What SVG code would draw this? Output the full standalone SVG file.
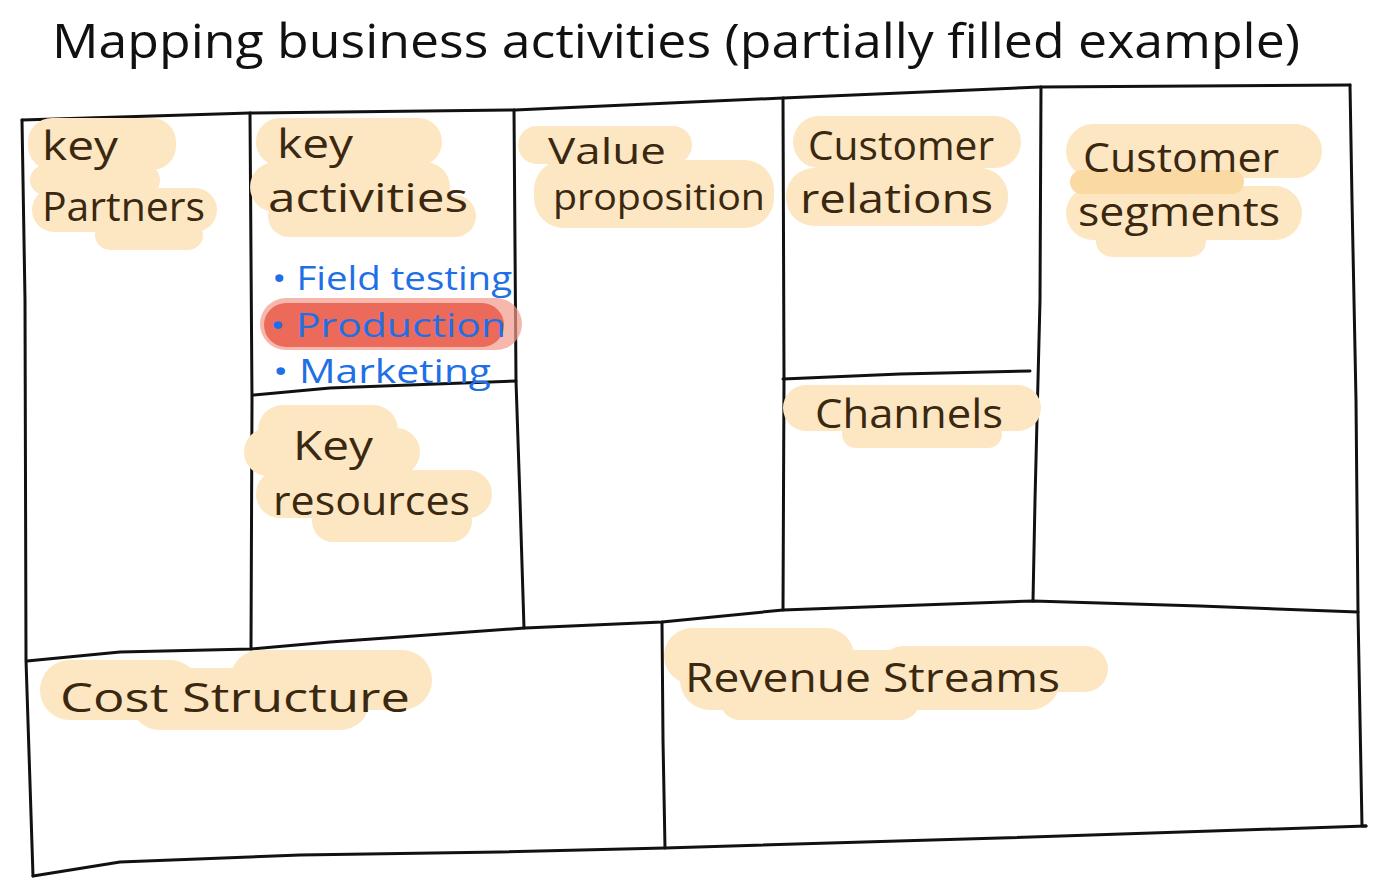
<svg xmlns="http://www.w3.org/2000/svg" width="1400" height="894" viewBox="0 0 1400 894">
<style>
.ln{fill:none;stroke:#111;stroke-width:3;stroke-linecap:round;stroke-linejoin:round}
.hl{fill:#fde6c2}
.hd{fill:#fbd9a2}
.lb{font-family:"Open Sans","Liberation Sans",sans-serif;font-size:40px;fill:#3a2810}
.bl{font-family:"Open Sans","Liberation Sans",sans-serif;font-size:33px;fill:#1f6fe6}
.tt{font-family:"Open Sans","Liberation Sans",sans-serif;font-size:48px;fill:#111}
</style>
<rect width="1400" height="894" fill="#fff"/>
<g id="title">
<text class="tt" x="52" y="58" textLength="1248" lengthAdjust="spacingAndGlyphs">Mapping business activities (partially filled example)</text>
</g>
<g id="grid">
<path class="ln" d="M22,120 L250,113 L515,110 L783,98 L1040,87 L1350,85"/>
<path class="ln" d="M1350,85 L1352,200 L1356,400 L1358,612 L1362,826 L1366,826"/>
<path class="ln" d="M33,876 L120,862 L300,855 L500,852 L665,848 L1000,838 L1366,826"/>
<path class="ln" d="M22,120 L25,300 L26,660 L33,876"/>
<path class="ln" d="M27,661 L120,652 L251,649 L330,642 L400,637 L525,628 L662,622 L783,610 L1033,601 L1200,606 L1358,612"/>
<path class="ln" d="M250,113 L252,400 L251,649"/>
<path class="ln" d="M514,110 L516,381 L520,500 L524,628"/>
<path class="ln" d="M253,395 L330,388 L516,381"/>
<path class="ln" d="M783,98 L784,378 L783,610"/>
<path class="ln" d="M783,379 L900,374 L1030,371"/>
<path class="ln" d="M1041,87 L1040,300 L1035,500 L1033,601"/>
<path class="ln" d="M662,622 L663,740 L665,848"/>
</g>
<g id="key-partners">
<rect class="hl" x="28" y="118" width="148" height="52" rx="24"/>
<rect class="hl" x="30" y="165" width="130" height="30" rx="15"/>
<rect class="hl" x="32" y="188" width="185" height="44" rx="22"/>
<rect class="hl" x="95" y="220" width="108" height="30" rx="15"/>
<text class="lb" x="42" y="160" textLength="76" lengthAdjust="spacingAndGlyphs">key</text>
<text class="lb" x="42" y="221" textLength="163" lengthAdjust="spacingAndGlyphs">Partners</text>
</g>
<g id="key-activities">
<rect class="hl" x="256" y="118" width="186" height="48" rx="24"/>
<rect class="hl" x="250" y="162" width="200" height="50" rx="25"/>
<rect class="hl" x="268" y="195" width="208" height="42" rx="21"/>
<text class="lb" x="277" y="158" textLength="76" lengthAdjust="spacingAndGlyphs">key</text>
<text class="lb" x="268" y="212" textLength="200" lengthAdjust="spacingAndGlyphs">activities</text>
<rect x="260" y="298" width="262" height="52" rx="26" fill="#f29a8a" fill-opacity="0.7"/>
<rect x="264" y="303" width="240" height="44" rx="22" fill="#e8503e" fill-opacity="0.75"/>
<text class="bl" x="272" y="290" textLength="240" lengthAdjust="spacingAndGlyphs">• Field testing</text>
<text class="bl" x="270" y="337" textLength="236" lengthAdjust="spacingAndGlyphs">• Production</text>
<text class="bl" x="273" y="383" textLength="218" lengthAdjust="spacingAndGlyphs">• Marketing</text>
</g>
<g id="key-resources">
<rect class="hl" x="258" y="405" width="140" height="50" rx="25"/>
<rect class="hl" x="244" y="428" width="176" height="48" rx="24"/>
<rect class="hl" x="256" y="470" width="236" height="48" rx="24"/>
<rect class="hl" x="312" y="500" width="160" height="42" rx="21"/>
<text class="lb" x="293" y="460" textLength="80" lengthAdjust="spacingAndGlyphs">Key</text>
<text class="lb" x="273" y="515" textLength="197" lengthAdjust="spacingAndGlyphs">resources</text>
</g>
<g id="value-proposition">
<rect class="hl" x="518" y="126" width="174" height="38" rx="19"/>
<rect class="hl" x="534" y="160" width="240" height="68" rx="30"/>
<text class="lb" x="548" y="164" font-size="36" style="font-size:36px" textLength="118" lengthAdjust="spacingAndGlyphs">Value</text>
<text class="lb" x="553" y="210" style="font-size:36px" textLength="212" lengthAdjust="spacingAndGlyphs">proposition</text>
</g>
<g id="customer-relations">
<rect class="hl" x="793" y="116" width="228" height="52" rx="26"/>
<rect class="hl" x="786" y="168" width="222" height="58" rx="28"/>
<text class="lb" x="808" y="160" textLength="186" lengthAdjust="spacingAndGlyphs">Customer</text>
<text class="lb" x="800" y="213" textLength="193" lengthAdjust="spacingAndGlyphs">relations</text>
</g>
<g id="channels">
<rect class="hl" x="783" y="385" width="258" height="46" rx="23"/>
<rect class="hl" x="842" y="420" width="160" height="28" rx="14"/>
<text class="lb" x="815" y="428" textLength="188" lengthAdjust="spacingAndGlyphs">Channels</text>
</g>
<g id="customer-segments">
<rect class="hl" x="1066" y="124" width="256" height="54" rx="27"/>
<rect class="hl" x="1066" y="186" width="236" height="54" rx="27"/>
<rect class="hd" x="1070" y="170" width="174" height="24" rx="12"/>
<rect class="hl" x="1096" y="225" width="110" height="32" rx="16"/>
<text class="lb" x="1083" y="172" textLength="196" lengthAdjust="spacingAndGlyphs">Customer</text>
<text class="lb" x="1078" y="226" textLength="202" lengthAdjust="spacingAndGlyphs">segments</text>
</g>
<g id="cost-structure">
<rect class="hl" x="40" y="660" width="160" height="60" rx="30"/>
<rect class="hl" x="130" y="668" width="240" height="62" rx="30"/>
<rect class="hl" x="230" y="650" width="202" height="60" rx="30"/>
<text class="lb" x="60" y="712" textLength="350" lengthAdjust="spacingAndGlyphs">Cost Structure</text>
</g>
<g id="revenue-streams">
<rect class="hl" x="664" y="628" width="190" height="56" rx="28"/>
<rect class="hl" x="680" y="650" width="380" height="60" rx="30"/>
<rect class="hl" x="880" y="646" width="228" height="46" rx="23"/>
<rect class="hl" x="720" y="680" width="200" height="40" rx="20"/>
<text class="lb" x="685" y="692" textLength="375" lengthAdjust="spacingAndGlyphs">Revenue Streams</text>
</g>
<g id="connectors"></g>
</svg>
